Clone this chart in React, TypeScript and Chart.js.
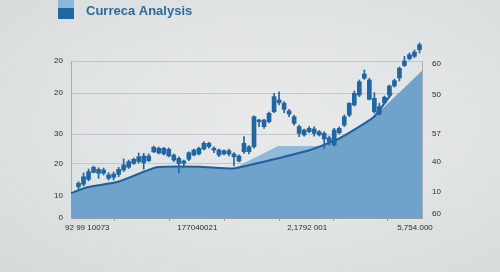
import React, { useEffect, useRef } from "react";
import { Chart, registerables } from "chart.js";

Chart.register(...registerables);

const titleText = "Curreca Analysis";

// Candles (index 0..68)
const opens = [19.9, 21.5, 24.6, 29.1, 28.5, 28.5, 25.3, 25.9, 27.8, 30.6, 32.3, 34.8, 35.9, 35.2, 36.5, 42.2, 41.4, 40.8, 39.5, 36.9, 34.8, 34.8, 37.4, 40.1, 40.8, 43.9, 45.4, 43.3, 40.1, 40.8, 40.8, 39.0, 36.3, 42.2, 42.2, 45.4, 61.3, 58.2, 61.3, 67.7, 73.4, 69.2, 66.2, 60.3, 53.9, 52.9, 55.0, 53.9, 52.9, 50.3, 48.6, 46.5, 54.3, 59.2, 65.6, 72.0, 78.3, 89.0, 75.6, 67.7, 66.2, 73.4, 78.3, 84.1, 89.2, 97.1, 101.5, 103.0, 107.2];
const closes = [22.1, 26.3, 29.5, 32.3, 31.0, 30.6, 27.4, 28.0, 31.0, 33.8, 35.9, 37.4, 39.0, 39.5, 39.5, 45.0, 44.4, 44.4, 43.8, 40.1, 38.0, 36.3, 41.6, 43.3, 44.4, 47.6, 47.6, 44.4, 43.3, 42.9, 42.9, 40.8, 39.5, 47.6, 45.4, 64.5, 62.4, 62.4, 66.7, 77.3, 75.2, 73.1, 68.2, 64.5, 58.2, 56.1, 57.1, 56.7, 55.0, 53.9, 51.1, 56.1, 57.1, 64.5, 73.1, 79.4, 86.8, 91.7, 87.9, 76.2, 70.9, 76.9, 84.1, 87.5, 95.4, 100.0, 104.0, 105.7, 110.4];
const highs = [23.1, 28.7, 31.2, 33.1, 32.0, 31.8, 28.9, 29.3, 32.3, 37.6, 36.9, 38.2, 41.4, 41.2, 40.8, 45.9, 45.2, 45.0, 44.6, 40.8, 39.0, 36.9, 42.2, 43.9, 45.2, 48.6, 48.2, 45.4, 43.9, 43.5, 43.9, 41.6, 40.3, 51.8, 46.1, 65.0, 62.9, 62.9, 67.5, 79.4, 80.4, 74.1, 69.2, 65.6, 59.2, 56.7, 58.2, 58.2, 55.7, 55.0, 52.2, 57.1, 58.0, 65.6, 73.4, 80.9, 87.9, 94.3, 89.0, 79.8, 73.1, 77.7, 84.7, 88.5, 96.2, 103.0, 105.1, 107.0, 111.5];
const lows = [18.5, 20.4, 23.6, 28.7, 25.3, 27.4, 24.2, 24.2, 26.3, 29.5, 31.5, 34.1, 35.0, 31.0, 35.9, 41.6, 40.8, 40.1, 38.9, 35.9, 28.9, 32.3, 36.5, 39.5, 40.1, 43.3, 44.4, 41.6, 39.0, 40.1, 39.5, 33.1, 35.7, 41.2, 40.8, 44.4, 58.2, 57.1, 60.5, 67.1, 72.0, 67.1, 64.5, 59.2, 51.8, 52.2, 54.3, 52.2, 52.2, 44.4, 46.5, 45.9, 53.5, 58.2, 64.5, 71.3, 77.3, 88.3, 75.2, 66.7, 65.6, 72.6, 77.3, 83.4, 87.3, 96.5, 100.6, 102.2, 105.1];

// Area under trend
const areaX = [-1.5, 1.7, 7.9, 15.6, 24.2, 30.9, 36.8, 46.2, 52.1, 58.8, 68.5];
const areaY = [15.9, 19.6, 23.1, 32.3, 32.7, 31.5, 35.7, 43.3, 50.8, 64.1, 93.8];
// Trend line
const trendX = [-1.5, 1.7, 7.9, 15.6, 24.2, 30.9, 36.8, 46.2, 52.1, 58.8, 62.5];
const trendY = [15.9, 19.6, 23.1, 32.3, 32.7, 31.5, 35.7, 43.3, 50.8, 64.1, 79.6];
// Lighter band
const bandX = [30.9, 39.8, 48.2];
const bandY = [31.5, 45.9, 45.9];

// Axes
const leftTickValues = [0, 14.0, 34.4, 53.5, 79.6, 100];
const leftTickLabels = ["0", "10", "20", "30", "20", "20"];
const rightTickValues = [2.5, 16.6, 35.7, 53.5, 78.3, 98.1];
const rightTickLabels = ["60", "10", "40", "57", "50", "60"];
const dateTickValues = [1.75, 12.6, 23.7, 34.7, 45.6, 56.3, 67.1];
const dateTickLabels = ["92 99 10073", "", "177040021", "", "2,1792 001", "", "5,754.000"];

const X_MIN = -1.5;
const X_MAX = 68.5;

const headerPlugin = {
  id: "header",
  afterDraw(chart: any) {
    const ctx = chart.ctx;
    ctx.save();
    ctx.fillStyle = "#8db7d9";
    ctx.fillRect(58, 0, 16, 8);
    ctx.fillStyle = "#1f66a3";
    ctx.fillRect(58, 8, 16, 11);
    ctx.font = 'bold 13px "Liberation Sans", Arial, sans-serif';
    ctx.fillStyle = "#2a69a2";
    ctx.textBaseline = "alphabetic";
    ctx.textAlign = "left";
    ctx.fillText(titleText, 86, 15);
    ctx.restore();
  },
};

export default function App() {
  const ref = useRef<HTMLCanvasElement | null>(null);

  useEffect(() => {
    document.body.style.margin = "0";
    const canvas = ref.current;
    if (!canvas) return;
    const n = Math.min(opens.length, closes.length, highs.length, lows.length);
    const bodies = [];
    const wicks = [];
    for (let i = 0; i < n; i++) {
      bodies.push({ x: i, y: [opens[i], closes[i]] });
      wicks.push({ x: i, y: [lows[i], highs[i]] });
    }
    const area = areaX.map((x, i) => ({ x, y: areaY[i] }));
    const trend = trendX.map((x, i) => ({ x, y: trendY[i] }));
    const band = bandX.map((x, i) => ({ x, y: bandY[i] }));

    const tickFont = { family: '"Liberation Sans", Arial, sans-serif', size: 8 };

    const chart = new Chart(canvas, {
      type: "bar",
      data: {
        datasets: [
          {
            type: "line",
            data: band,
            borderWidth: 0,
            borderColor: "rgba(0,0,0,0)",
            backgroundColor: "#8fbadb",
            fill: "origin",
            pointRadius: 0,
            tension: 0,
            order: 5,
          } as any,
          {
            type: "line",
            data: area,
            borderWidth: 0,
            borderColor: "rgba(0,0,0,0)",
            backgroundColor: "#70a3cc",
            fill: "origin",
            pointRadius: 0,
            tension: 0,
            order: 4,
          } as any,
          {
            type: "line",
            data: trend,
            borderWidth: 2,
            borderColor: "#1d5f9c",
            fill: false,
            pointRadius: 0,
            tension: 0.15,
            order: 3,
          } as any,
          {
            type: "bar",
            data: wicks,
            backgroundColor: "#2166a4",
            barThickness: 1,
            grouped: false,
            borderWidth: 0,
            clip: false,
            order: 2,
          } as any,
          {
            type: "bar",
            data: bodies,
            backgroundColor: "#2166a4",
            barThickness: 4,
            grouped: false,
            borderWidth: 0,
            clip: false,
            order: 1,
          } as any,
        ],
      },
      options: {
        responsive: false,
        animation: false,
        devicePixelRatio: 1,
        layout: { padding: { left: 0, right: 0, top: 61, bottom: 0 } },
        plugins: {
          legend: { display: false },
          tooltip: { enabled: false },
          title: { display: false },
        },
        scales: {
          x: {
            type: "linear",
            min: X_MIN,
            max: X_MAX,
            offset: false,
            position: "bottom",
            weight: 2,
            ticks: { display: false },
            grid: { display: false },
            border: { display: false },
            afterFit: (s: any) => {
              s.height = 9;
            },
          },
          x2: {
            type: "linear",
            min: X_MIN,
            max: X_MAX,
            offset: false,
            position: "bottom",
            weight: 1,
            afterBuildTicks: (s: any) => {
              s.ticks = dateTickValues.map((v) => ({ value: v }));
            },
            ticks: {
              autoSkip: false,
              maxRotation: 0,
              padding: 2,
              color: "#2b2b2b",
              font: tickFont,
              callback: (_v: any, i: number) => dateTickLabels[i],
            },
            grid: { drawOnChartArea: false, drawTicks: true, tickLength: 3, color: "#9a9c9d" },
            border: { display: true, color: "#9a9c9d", width: 1 },
            afterFit: (s: any) => {
              s.height = 45;
            },
          },
          y: {
            type: "linear",
            min: 0,
            max: 100,
            position: "left",
            afterBuildTicks: (s: any) => {
              s.ticks = leftTickValues.map((v) => ({ value: v }));
            },
            ticks: {
              autoSkip: false,
              padding: 8,
              color: "#2b2b2b",
              font: tickFont,
              callback: (_v: any, i: number) => leftTickLabels[i],
            },
            grid: { color: "#c3c7c9", drawTicks: false, lineWidth: 1 },
            border: { display: true, color: "#a9adaf", width: 1 },
            afterFit: (s: any) => {
              s.width = 71;
            },
          },
          y1: {
            type: "linear",
            min: 0,
            max: 100,
            position: "right",
            afterBuildTicks: (s: any) => {
              s.ticks = rightTickValues.map((v) => ({ value: v }));
            },
            ticks: {
              autoSkip: false,
              padding: 10,
              color: "#2b2b2b",
              font: tickFont,
              callback: (_v: any, i: number) => rightTickLabels[i],
            },
            grid: { drawOnChartArea: false, drawTicks: false },
            border: { display: true, color: "#a9adaf", width: 1 },
            afterFit: (s: any) => {
              s.width = 78;
            },
          },
        },
      },
      plugins: [headerPlugin],
    } as any);

    return () => {
      chart.destroy();
    };
  }, []);

  return (
    <div
      style={{
        position: "fixed",
        left: 0,
        top: 0,
        width: 500,
        height: 272,
        background: "radial-gradient(ellipse at 55% 45%, #e8eaea 0%, #e0e3e4 55%, #d6dadb 100%)",
      }}
    >
      <canvas ref={ref} width={500} height={272} style={{ width: 500, height: 272, display: "block" }} />
    </div>
  );
}
